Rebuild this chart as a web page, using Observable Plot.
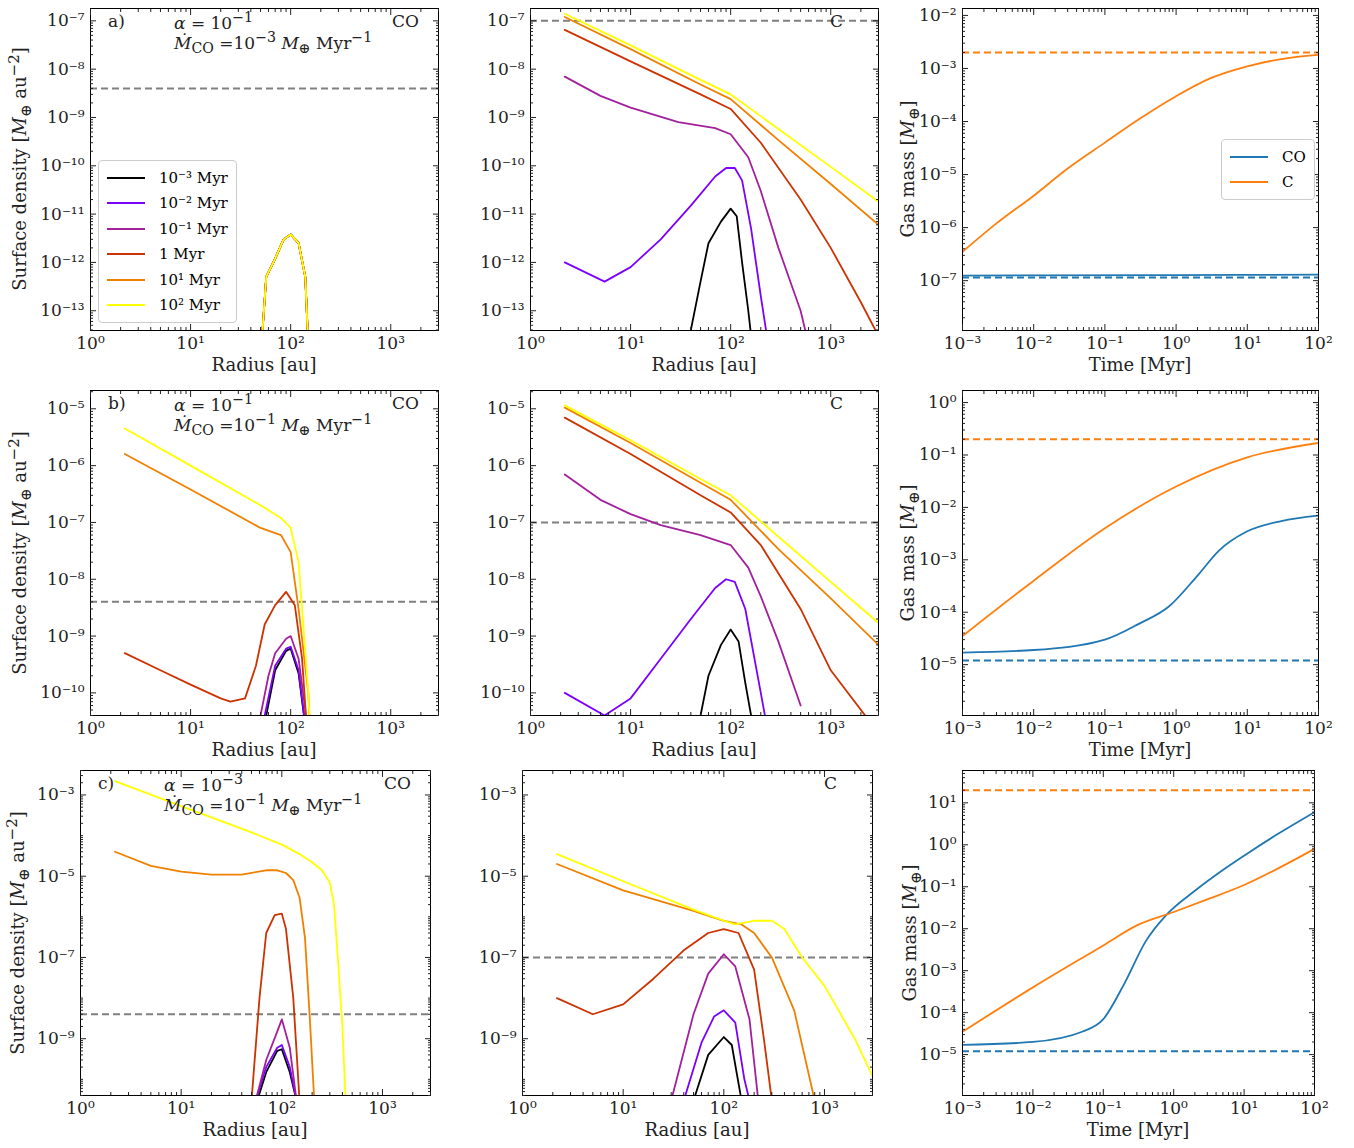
<!DOCTYPE html>
<html><head><meta charset="utf-8">
<script src="https://cdn.jsdelivr.net/npm/d3@7"></script>
<script src="https://cdn.jsdelivr.net/npm/@observablehq/plot@0.6"></script>
<style>
body{margin:0;background:#fff;font-family:"DejaVu Serif","Liberation Serif",serif;}
#fig{position:relative;width:1354px;height:1148px;}
.p{position:absolute;}
.t{position:absolute;font-size:17px;color:#222;white-space:nowrap;}
.yl{position:absolute;font-size:18px;color:#222;white-space:nowrap;transform:translate(-50%,-50%) rotate(-90deg);}
.xl{position:absolute;font-size:18px;color:#222;white-space:nowrap;transform:translateX(-50%);}
.leg{position:absolute;border:1px solid #ccc;border-radius:4px;background:#fff;font-size:15px;padding:4px 8px;}
.leg div{display:flex;align-items:center;height:25.5px;}
.leg span.l{display:inline-block;width:38px;height:0;border-top:2px solid;margin-right:14px;}
</style></head><body><div id="fig"></div>
<script>
// time labels and colours for radial profiles
const times = ["10⁻³ Myr","10⁻² Myr","10⁻¹ Myr","1 Myr","10¹ Myr","10² Myr"];
const tcol = ["#000000","#7a00ff","#a3209d","#cc3300","#f08000","#ffff00"];

// panel a) CO, alpha=1e-1, Mdot=1e-3  (all curves overlap)
const aBump = [[50,1e-14],[57,5e-13],[70,1.2e-12],[85,3e-12],[100,3.8e-12],[120,2.5e-12],[140,5e-13],[152,1e-14]];
const aCO = [aBump,aBump,aBump,aBump,aBump,aBump];
// panel a) C
const aC = [
 [[35,1e-14],[50,4e-13],[60,2.5e-12],[80,7e-12],[100,1.3e-11],[115,9e-12],[130,1e-12],[150,1e-13],[170,1e-14]],
 [[2.2,1e-12],[5.5,4e-13],[10,8e-13],[20,3e-12],[40,1.5e-11],[70,6e-11],[90,9e-11],[110,9e-11],[130,5e-11],[160,5e-12],[200,2e-13],[250,1e-14]],
 [[2.2,7e-9],[5,2.8e-9],[10,1.6e-9],[30,8e-10],[70,6e-10],[100,4.5e-10],[150,1.5e-10],[200,3e-11],[300,2e-12],[500,1e-13],[650,1e-14]],
 [[2.2,6.5e-8],[10,1.45e-8],[50,3e-9],[100,1.5e-9],[200,3e-10],[500,2e-11],[1000,2e-12],[2000,1.5e-13],[3000,3e-14]],
 [[2.2,1.2e-7],[10,2.6e-8],[50,4.8e-9],[100,2.4e-9],[300,3.4e-10],[1000,4.2e-11],[3000,6e-12]],
 [[2.2,1.4e-7],[10,3.1e-8],[50,6e-9],[100,3e-9],[300,5.8e-10],[1000,9.5e-11],[3000,1.8e-11]]
];
// panel b) CO, alpha=1e-1, Mdot=1e-1
const bCO = [
 [[57,4e-11],[70,2.5e-10],[90,5.5e-10],[100,6e-10],[120,2.2e-10],[150,1e-11]],
 [[55,4e-11],[70,3e-10],[90,6e-10],[100,6.5e-10],[120,2.5e-10],[150,1e-11]],
 [[50,4e-11],[60,2e-10],[70,5e-10],[90,9e-10],[100,1e-9],[120,4e-10],[140,5e-11],[150,1e-11]],
 [[2.2,5e-10],[5,2.5e-10],[10,1.4e-10],[20,8e-11],[25,7e-11],[35,8e-11],[45,3e-10],[55,1.6e-9],[70,3.5e-9],[90,6e-9],[110,3.5e-9],[130,4e-10],[150,1e-11]],
 [[2.2,1.6e-6],[10,3.8e-7],[50,8e-8],[80,6e-8],[100,3e-8],[120,3e-9],[150,1e-10],[160,1e-11]],
 [[2.2,4.5e-6],[10,1e-6],[50,2e-7],[80,1.2e-7],[100,8e-8],[120,2e-8],[150,1e-10],[160,1e-11]]
];
const bC = [
 [[50,4e-11],[60,2e-10],[80,7e-10],[100,1.3e-9],[120,8e-10],[140,1.5e-10],[160,4e-11]],
 [[2.2,1e-10],[5.5,4e-11],[10,8e-11],[20,4e-10],[40,2e-9],[70,7e-9],[90,1e-8],[110,9e-9],[140,3e-9],[200,1e-10],[220,4e-11]],
 [[2.2,7e-7],[5,2.5e-7],[10,1.4e-7],[20,9e-8],[50,6e-8],[100,4e-8],[150,1.6e-8],[200,5e-9],[300,8e-10],[500,6e-11]],
 [[2.2,7e-6],[10,1.6e-6],[50,3e-7],[100,1.5e-7],[200,4e-8],[500,3e-9],[1000,2.5e-10],[2500,3e-11]],
 [[2.2,1.05e-5],[10,2.5e-6],[50,5e-7],[100,2.5e-7],[300,3.4e-8],[1000,4.6e-9],[3000,7e-10]],
 [[2.2,1.15e-5],[10,2.8e-6],[50,5.8e-7],[100,3e-7],[300,5.6e-8],[1000,9e-9],[3000,1.7e-9]]
];
// panel c) CO, alpha=1e-3, Mdot=1e-1
const cCO = [
 [[57,3e-11],[70,1.5e-10],[90,5e-10],[100,5.5e-10],[120,1.5e-10],[140,3e-11]],
 [[55,3e-11],[70,2e-10],[90,6e-10],[100,7e-10],[120,2e-10],[140,3e-11]],
 [[55,3e-11],[70,3e-10],[90,1.5e-9],[100,3e-9],[120,6e-10],[140,3e-11]],
 [[50,3e-11],[60,1e-8],[70,4e-7],[85,1.1e-6],[100,1.2e-6],[110,5e-7],[130,1e-8],[150,3e-11]],
 [[2.2,4e-5],[5,1.8e-5],[10,1.3e-5],[20,1.1e-5],[40,1.1e-5],[70,1.4e-5],[90,1.4e-5],[110,1.2e-5],[130,8e-6],[150,3e-6],[170,3e-7],[190,3e-9],[210,3e-11]],
 [[2.2,2.2e-3],[10,5.3e-4],[50,1.2e-4],[100,6e-5],[150,3.5e-5],[200,2.2e-5],[250,1.4e-5],[300,7e-6],[330,2e-6],[360,1e-7],[400,2e-9],[430,3e-11]]
];
const cC = [
 [[50,3e-11],[70,4e-10],[100,1.1e-9],[120,7e-10],[150,3e-11]],
 [[40,3e-11],[60,8e-10],[80,3.5e-9],[100,5e-9],[130,2.5e-9],[160,1e-10],[180,3e-11]],
 [[30,3e-11],[50,4e-9],[70,4e-8],[100,1.2e-7],[130,6e-8],[180,3e-9],[220,3e-11]],
 [[2.2,1e-8],[5,4e-9],[10,7e-9],[20,3e-8],[40,1.5e-7],[70,4e-7],[100,5e-7],[140,4e-7],[200,5e-8],[250,1e-9],[300,3e-11]],
 [[2.2,2e-5],[10,4.5e-6],[50,1.4e-6],[100,8e-7],[150,6.5e-7],[200,4e-7],[300,1e-7],[500,5e-9],[800,3e-11]],
 [[2.2,3.5e-5],[10,7.5e-6],[50,1.5e-6],[100,8e-7],[130,6.5e-7],[200,8e-7],[300,8e-7],[400,5e-7],[600,1e-7],[1000,2e-8],[2000,1e-9],[3000,1.2e-10]]
];
// gas mass vs time (CO blue, C orange) and dashed reference levels
const aMassCO = [[1e-3,1.25e-7],[1,1.27e-7],[100,1.3e-7]];
const aMassC = [[1e-3,3.5e-7],[3e-3,1.2e-6],[1e-2,4e-6],[3e-2,1.3e-5],[0.1,4e-5],[0.3,1.1e-4],[1,3e-4],[3,6.5e-4],[10,1.1e-3],[30,1.5e-3],[100,1.8e-3]];
const bMassCO = [[1e-3,1.7e-5],[1e-2,1.9e-5],[0.1,3e-5],[0.3,6e-5],[0.8,1.3e-4],[2,5e-4],[4,1.5e-3],[10,3.5e-3],[30,5.5e-3],[100,7e-3]];
const bMassC = [[1e-3,3.5e-5],[1e-2,4e-4],[0.1,4e-3],[1,2.5e-2],[10,9e-2],[100,1.7e-1]];
const cMassCO = [[1e-3,1.7e-5],[1e-2,2e-5],[0.05,3.5e-5],[0.1,7e-5],[0.2,5e-4],[0.4,5e-3],[0.8,2.2e-2],[2,8e-2],[5,0.25],[10,0.55],[30,1.8],[100,6]];
const cMassC = [[1e-3,3.5e-5],[1e-2,4e-4],[0.1,4e-3],[0.3,1.2e-2],[1,2.5e-2],[3,5e-2],[10,1.1e-1],[30,2.7e-1],[100,8e-1]];
const massRef = {a:[1.15e-7,2e-3], b:[1.2e-5,2e-1], c:[1.2e-5,20]};
const greyRef = {aCO:4e-9, aC:1e-7, bCO:4e-9, bC:1e-7, cCO:4e-9, cC:1e-7};

const sup = {"-":"⁻","0":"⁰","1":"¹","2":"²","3":"³","4":"⁴","5":"⁵","6":"⁶","7":"⁷","8":"⁸","9":"⁹"};
const pow = v => "10" + String(Math.round(Math.log10(v))).split("").map(c => sup[c]).join("");
function decades(d){const a=[];for(let e=Math.ceil(Math.log10(d[0])-1e-9);e<=Math.floor(Math.log10(d[1])+1e-9);e++)a.push(10**e);return a;}
function minors(d){const a=[];for(let e=Math.floor(Math.log10(d[0]));e<=Math.ceil(Math.log10(d[1]));e++)for(let k=2;k<10;k++){const v=k*10**e;if(v>=d[0]&&v<=d[1])a.push(v);}return a;}

const fig = document.getElementById("fig");
function panel(o){
  const ml=80, mt=6, mb=45, mr=10;
  const marks = [];
  for (const h of o.hlines) marks.push(Plot.ruleY([h.y],{stroke:h.stroke,strokeWidth:2,strokeDasharray:"7,4"}));
  for (const s of o.series) marks.push(Plot.line(s.d,{x:"0",y:"1",stroke:s.c,strokeWidth:1.8,curve:s.curve||"linear"}));
  const xt=decades(o.x), yt=decades(o.y);
  const ylab = o.oddOnly ? yt.filter(v => Math.round(Math.log10(v)) % 2 !== 0) : yt;
  const ymin = o.oddOnly ? yt.filter(v => !ylab.includes(v)).concat(minors(o.y)) : minors(o.y);
  marks.push(
    Plot.frame({stroke:"#000",strokeWidth:1}),
    Plot.axisX(xt,{anchor:"bottom",tickSize:-6,tickPadding:12,tickFormat:pow,fontSize:17}),
    Plot.axisX(xt,{anchor:"top",tickSize:-6,tickFormat:()=>""}),
    Plot.axisX(minors(o.x),{anchor:"bottom",tickSize:-3,tickFormat:()=>""}),
    Plot.axisX(minors(o.x),{anchor:"top",tickSize:-3,tickFormat:()=>""}),
    Plot.axisY(ylab,{anchor:"left",tickSize:-6,tickPadding:12,tickFormat:pow,fontSize:17}),
    Plot.axisY(ylab,{anchor:"right",tickSize:-6,tickFormat:()=>""}),
    Plot.axisY(ymin,{anchor:"left",tickSize:-3,tickFormat:()=>""}),
    Plot.axisY(ymin,{anchor:"right",tickSize:-3,tickFormat:()=>""})
  );
  const svg = Plot.plot({
    width:o.fw+ml+mr, height:o.fh+mt+mb, marginLeft:ml, marginRight:mr, marginTop:mt, marginBottom:mb,
    x:{type:"log",domain:o.x,label:null}, y:{type:"log",domain:o.y,label:null}, clip:true,
    style:{fontFamily:"DejaVu Serif, serif",color:"#222",background:"none",overflow:"visible"},
    marks
  });
  svg.classList.add("p");
  svg.style.left=(o.fx-ml)+"px"; svg.style.top=(o.fy-mt)+"px";
  fig.appendChild(svg);
  const xl=document.createElement("div");xl.className="xl";xl.textContent=o.xlabel;
  xl.style.left=(o.fx+o.fw/2)+"px";xl.style.top=(o.fy+o.fh+24)+"px";fig.appendChild(xl);
  if(o.ylabel){const yl=document.createElement("div");yl.className="yl";yl.innerHTML=o.ylabel;
    yl.style.left=(o.fx-o.ylo)+"px";yl.style.top=(o.fy+o.fh/2)+"px";fig.appendChild(yl);}
  for(const t of o.texts||[]){const d=document.createElement("div");d.className="t";d.innerHTML=t[2];
    d.style.left=(o.fx+t[0])+"px";d.style.top=(o.fy+t[1])+"px";fig.appendChild(d);}
}
const prof = arr => arr.map((d,i)=>({d,c:tcol[i]}));
const SD = "Surface density [<i>M</i><sub>⊕</sub> au<sup>−2</sup>]";
const GM = "Gas mass [<i>M</i><sub>⊕</sub>]";
const rows=[{y:8,h:322,sd:[3.9e-14,1.8e-7],k:"a",CO:aCO,C:aC,mco:aMassCO,mc:aMassC,md:[1.15e-8,1.35e-2],
  al:"10<sup>−1</sup>",md0:"10<sup>−3</sup>",lab:"a)"},
 {y:390,h:325,sd:[4e-11,2.1e-5],k:"b",CO:bCO,C:bC,mco:bMassCO,mc:bMassC,md:[1.07e-6,1.7],al:"10<sup>−1</sup>",md0:"10<sup>−1</sup>",lab:"b)"},
 {y:770,h:325,sd:[4e-11,4e-3],k:"c",CO:cCO,C:cC,mco:cMassCO,mc:cMassC,md:[1.06e-6,59],al:"10<sup>−3</sup>",md0:"10<sup>−1</sup>",lab:"c)"}];
rows.forEach((r,i)=>{
  const c1x = i==2?80:90, c1w = i==2?350:348, c2x = i==2?522:530, c2w=i==2?350:348;
  panel({fx:c1x,fy:r.y,fw:c1w,fh:r.h,x:[1,3000],y:r.sd,series:prof(r.CO),oddOnly:i==2,
    hlines:[{y:greyRef[r.k+"CO"],stroke:"#808080"}],xlabel:"Radius [au]",ylabel:SD,ylo:i==2?62:70,
    texts:[[18,3,r.lab],[84,1,"<i>α</i> = "+r.al],[84,21,"<i>Ṁ</i><sub>CO</sub> ="+r.md0+" <i>M</i><sub>⊕</sub> Myr<sup>−1</sup>"],[c1w-46,3,"CO"]]});
  panel({fx:c2x,fy:r.y,fw:c2w,fh:r.h,x:[1,3000],y:r.sd,series:prof(r.C),oddOnly:i==2,
    hlines:[{y:greyRef[r.k+"C"],stroke:"#808080"}],xlabel:"Radius [au]",texts:[[c2w-48,3,"C"]]});
  panel({fx:962,fy:r.y,fw:i==2?352:356,fh:r.h,x:[1e-3,100],y:r.md,
    series:[{d:r.mco,c:"#1f77b4",curve:"monotone-x"},{d:r.mc,c:"#ff7f0e",curve:"monotone-x"}],
    hlines:[{y:massRef[r.k][0],stroke:"#1f77b4"},{y:massRef[r.k][1],stroke:"#ff7f0e"}],
    xlabel:"Time [Myr]",ylabel:GM,ylo:i==2?50:52});
});
// legends
function legend(x,y,items){const L=document.createElement("div");L.className="leg";L.style.left=x+"px";L.style.top=y+"px";
  for(const [t,c] of items){const r=document.createElement("div");r.innerHTML=`<span class="l" style="border-color:${c}"></span>${t}`;L.appendChild(r);}fig.appendChild(L);}
legend(98,160,times.map((t,i)=>[t,tcol[i]]));
legend(1221,139,[["CO","#1f77b4"],["C","#ff7f0e"]]);
</script></body></html>
